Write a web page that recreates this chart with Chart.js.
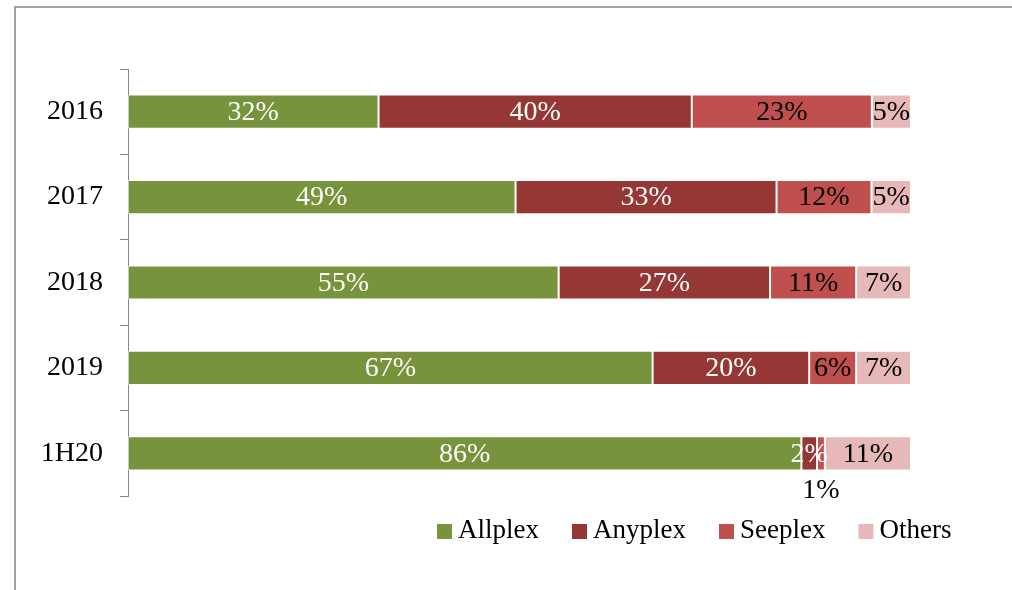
<!DOCTYPE html>
<html>
<head>
<meta charset="utf-8">
<script src="https://cdn.jsdelivr.net/npm/chart.js@4.4.1/dist/chart.umd.min.js"></script>
<style>
  body { margin: 0; background: #fff; }
  #wrap { position: relative; width: 1012px; height: 590px; }
</style>
</head>
<body>
<div id="wrap"><canvas id="share"></canvas></div>
<script>
var years = ["2016", "2017", "2018", "2019", "1H20"];
var allplex = [32, 49, 55, 67, 86];
var anyplex = [40, 33, 27, 20, 2];
var seeplex = [23, 12, 11, 6, 1];
var others  = [5, 5, 7, 7, 11];

var names = ["Allplex", "Anyplex", "Seeplex", "Others"];
var colors = ["#77933C", "#953735", "#C0504D", "#E6B9B8"];
var labelColors = ["#fff", "#fff", "#000", "#000"];
var font = "28px 'Liberation Serif', serif";

var series = [allplex, anyplex, seeplex, others];

// 100% stacked: each row scaled to its own total
var totals = years.map(function (y, i) {
  return allplex[i] + anyplex[i] + seeplex[i] + others[i];
});

var datasets = series.map(function (vals, k) {
  return {
    label: names[k],
    data: vals.map(function (v, i) { return v / totals[i] * 100; }),
    raw: vals,
    backgroundColor: colors[k],
    borderColor: "rgba(255,255,255,0.55)",
    borderWidth: 1,
    borderSkipped: false,
    categoryPercentage: 1,
    barPercentage: 0.4
  };
});

var frame = {
  id: "frame",
  beforeDraw: function (chart) {
    var ctx = chart.ctx;
    ctx.save();
    ctx.strokeStyle = "#a0a0a0";
    ctx.lineWidth = 2;
    ctx.beginPath();
    ctx.moveTo(15, 590);
    ctx.lineTo(15, 7);
    ctx.lineTo(1012, 7);
    ctx.stroke();
    ctx.restore();
  }
};

var barLabels = {
  id: "barLabels",
  afterDatasetsDraw: function (chart) {
    var ctx = chart.ctx;
    ctx.save();
    ctx.font = font;
    ctx.textAlign = "center";
    ctx.textBaseline = "middle";
    chart.data.datasets.forEach(function (ds, k) {
      chart.getDatasetMeta(k).data.forEach(function (bar, i) {
        var v = ds.raw[i];
        var x = (bar.base + bar.x) / 2;
        var y = bar.y + 1;
        ctx.fillStyle = labelColors[k];
        if (k == 2 && v < 2) {
          // too thin, Excel put this one under the bar
          y = bar.y + bar.height / 2 + 20;
          ctx.fillStyle = "#000";
        }
        ctx.fillText(v + "%", x, y);
      });
    });
    ctx.restore();
  }
};

var legendBox = {
  id: "legendBox",
  afterDraw: function (chart) {
    var ctx = chart.ctx;
    ctx.save();
    ctx.font = "27px 'Liberation Serif', serif";
    ctx.textBaseline = "middle";
    ctx.textAlign = "left";
    var x = 437, y = 531;
    chart.data.datasets.forEach(function (ds) {
      ctx.fillStyle = ds.backgroundColor;
      ctx.fillRect(x, y - 7, 15, 15);
      ctx.fillStyle = "#000";
      ctx.fillText(ds.label, x + 21, y);
      x += 21 + ctx.measureText(ds.label).width + 33;
    });
    ctx.restore();
  }
};

new Chart("share", {
  type: "bar",
  data: { labels: years, datasets: datasets },
  options: {
    indexAxis: "y",
    responsive: true,
    maintainAspectRatio: false,
    animation: false,
    layout: { padding: { left: 0, top: 69, right: 101, bottom: 94 } },
    plugins: {
      legend: { display: false },
      tooltip: { enabled: false }
    },
    scales: {
      x: { stacked: true, min: 0, max: 100, display: false },
      y: {
        stacked: true,
        afterFit: function (s) { s.width = 128; },
        grid: { drawOnChartArea: false, drawTicks: true, tickLength: 8, color: "#888", offset: true },
        border: { display: true, color: "#888", width: 1 },
        ticks: { color: "#000", padding: 17, font: { family: "'Liberation Serif', serif", size: 28 } }
      }
    }
  },
  plugins: [frame, barLabels, legendBox]
});
</script>
</body>
</html>
